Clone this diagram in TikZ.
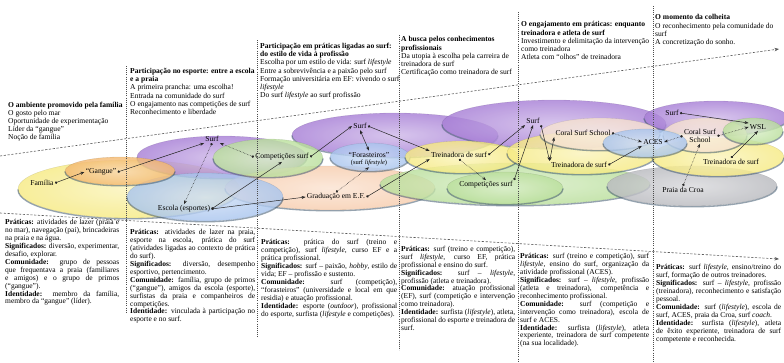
\documentclass[tikz,border=0pt]{standalone}
\usepackage{fontspec}
\setmainfont{Liberation Serif}
\usetikzlibrary{arrows.meta}

\definecolor{cYellow}{HTML}{F6EA84}
\definecolor{cOrange}{HTML}{F4B970}
\definecolor{cPurple}{HTML}{A77FD6}
\definecolor{cBlue}{HTML}{A9C5EE}
\definecolor{cGreen}{HTML}{BADF9C}
\definecolor{cPeach}{HTML}{F7CDAE}
\definecolor{cCream}{HTML}{F6E2D0}
\definecolor{cGrey}{HTML}{B9BABF}
\definecolor{cRim}{HTML}{3F586E}

% one shaded, semi-transparent lobe with a darker lower rim
\newcommand\drawlobe[5]{%
  \shade[lobe=#5] (#1,#2) ellipse [x radius=#3, y radius=#4];
  \draw[rimline] (#1+#3,#2+0.8) arc[start angle=0, end angle=180, x radius=#3, y radius=#4];
}

\begin{document}
\begin{tikzpicture}[x=1pt,y=-1pt,
  lobe/.style={inner color=#1!55!white, outer color=#1, opacity=0.82,
               draw=#1!55!black, draw opacity=0.3, line width=0.3pt},
  rimline/.style={cRim, line width=1.3pt, opacity=0.55, line cap=round},
  toptext/.style={anchor=north west, align=left, inner sep=0pt,
                  font=\fontsize{7.55}{8.2}\selectfont},
  bottext/.style={anchor=north west, align=justify, inner sep=0pt,
                  font=\fontsize{7.5}{7.9}\selectfont,
                  execute at begin node={\parindent=0pt\tolerance=9999\emergencystretch=1.5em\hyphenpenalty=10000}},
  lab/.style={font=\fontsize{7.6}{8.3}\selectfont, inner sep=1.2pt, align=center},
  conn/.style={draw=black!85, line width=0.5pt,
               {Circle[length=2.4pt]}-{Stealth[length=4pt,width=3pt]}},
  dconn/.style={conn, densely dotted},
  twoway/.style={draw=black!85, line width=0.5pt,
               {Stealth[length=4pt,width=3pt]}-{Stealth[length=4pt,width=3pt]}},
  sepline/.style={draw=black!70, line width=0.5pt, dash pattern=on 0.8pt off 1.3pt},
  guide/.style={draw=black!65, line width=0.6pt, dash pattern=on 2.2pt off 1.6pt,
               -{Stealth[length=4.5pt,width=3.5pt]}}
]
\useasboundingbox (0,0) rectangle (784,362);

% ---------- lobes (back to front) ----------
\drawlobe{129}{189}{111}{29}{cYellow}
\drawlobe{222}{157}{85}{21}{cPurple}
\drawlobe{395}{135}{103}{22}{cPurple}
\drawlobe{330}{188}{105}{22}{cPeach}
\drawlobe{205}{197}{78}{24}{cBlue}
\drawlobe{120}{171}{55}{14}{cOrange}
\drawlobe{268}{158}{55}{19}{cGreen}
\drawlobe{554}{124}{112}{24}{cPurple}
\drawlobe{370}{157}{40}{14}{cBlue}
\drawlobe{515}{184}{135}{21}{cGreen}
\drawlobe{505}{188}{58}{16}{cGreen}
\drawlobe{462}{157}{57}{16}{cYellow}
\drawlobe{692}{186}{85}{20}{cGrey}
\drawlobe{582}{153}{75}{21}{cYellow}
\drawlobe{716}{118}{72}{17}{cPurple}
\drawlobe{600}{134}{60}{16}{cCream}
\drawlobe{718}{157}{66}{19}{cYellow}
\drawlobe{705}{135}{42}{17}{cCream}
\drawlobe{645}{143}{42}{14}{cBlue}
\drawlobe{753}{131}{30}{13}{cGreen}

% ---------- phase separators and time guides ----------
\coordinate (s1a) at (126,66);  \coordinate (s1b) at (126,312);
\coordinate (s2a) at (257,40);  \coordinate (s2b) at (257,338);
\coordinate (s3a) at (399,35);  \coordinate (s3b) at (399,350);
\coordinate (s4a) at (518,12);  \coordinate (s4b) at (518,362);
\coordinate (s5a) at (653,6);   \coordinate (s5b) at (653,362);
\draw[sepline] (s1a) -- (s1b);
\draw[sepline] (s2a) -- (s2b);
\draw[sepline] (s3a) -- (s3b);
\draw[sepline] (s4a) -- (s4b);
\draw[sepline] (s5a) -- (s5b);

\coordinate (gta) at (0,156);  \coordinate (gtb) at (779,49);
\coordinate (gba) at (0,213);  \coordinate (gbb) at (779,259);
\draw[guide] (gta) -- (gtb);
\draw[guide] (gba) -- (gbb);

% ---------- phase headings ----------
\node[toptext] (t1) at (8,101.5) {\textbf{O ambiente promovido pela família}\\O gosto pelo mar\\Oportunidade de experimentação\\Líder da “gangue”\\Noção de família};
\node[toptext] (t2) at (130,68) {\textbf{Participação no esporte: entre a escola}\\\textbf{e a praia}\\A primeira prancha: uma escolha!\\Entrada na comunidade do surf\\O engajamento nas competições de surf\\Reconhecimento e liberdade};
\node[toptext] (t3) at (260,43) {\textbf{Participação em práticas ligadas ao surf:}\\\textbf{do estilo de vida à profissão}\\Escolha por um estilo de vida: surf \textit{lifestyle}\\Entre a sobrevivência e a paixão pelo surf\\Formação universitária em EF: vivendo o surf\\\textit{lifestyle}\\Do surf \textit{lifestyle} ao surf profissão};
\node[toptext] (t4) at (401,36.5) {\textbf{A busca pelos conhecimentos}\\\textbf{profissionais}\\Da utopia à escolha pela carreira de\\treinadora de surf\\Certificação como treinadora de surf};
\node[toptext] (t5) at (521,21.5) {\textbf{O engajamento em práticas: enquanto}\\\textbf{treinadora e atleta de surf}\\Investimento e delimitação da intervenção\\como treinadora\\Atleta com “olhos” de treinadora};
\node[toptext] (t6) at (655,14.5) {\textbf{O momento da colheita}\\O reconhecimento pela comunidade do\\surf\\A concretização do sonho.};

% ---------- phase descriptions ----------
\node[bottext, text width=114pt] (b1) at (5,219.5) {\textbf{Práticas:} atividades de lazer (praia e no mar), navegação (pai), brincadeiras na praia e na água.\\\textbf{Significados:} diversão, experimentar, desafio, explorar.\\\textbf{Comunidade:} grupo de pessoas que frequentava a praia (familiares e amigos) e o grupo de primos (“gangue”).\\\textbf{Identidade:} membro da família, membro da “gangue” (líder).};
\node[bottext, text width=125pt] (b2) at (130,229.5) {\textbf{Práticas:} atividades de lazer na praia, esporte na escola, prática do surf (atividades ligadas ao contexto de prática do surf).\\\textbf{Significados:} diversão, desempenho esportivo, pertencimento.\\\textbf{Comunidade:} família, grupo de primos (“gangue”), amigos da escola (esporte), surfistas da praia e companheiros de competições.\\\textbf{Identidade:} vinculada à participação no esporte e no surf.};
\node[bottext, text width=136pt] (b3) at (261,239.5) {\textbf{Práticas:} prática do surf (treino e competição), surf \textit{lifestyle}, curso EF e a prática profissional.\\\textbf{Significados:} surf – paixão, \textit{hobby}, estilo de vida; EF – profissão e sustento.\\\textbf{Comunidade:} surf (competição), “forasteiros” (universidade e local em que residia) e atuação profissional.\\\textbf{Identidade:} esporte (\textit{outdoor}), profissional do esporte, surfista (\textit{lifestyle} e competições).};
\node[bottext, text width=114pt] (b4) at (401,246) {\textbf{Práticas:} surf (treino e competição), surf \textit{lifestyle}, curso EF, prática profissional e ensino do surf.\\\textbf{Significados:} surf – \textit{lifestyle}, profissão (atleta e treinadora).\\\textbf{Comunidade:} atuação profissional (EF), surf (competição e intervenção como treinadora).\\\textbf{Identidade:} surfista (\textit{lifestyle}), atleta, profissional do esporte e treinadora de surf.};
\node[bottext, text width=129pt] (b5) at (520,253.5) {\textbf{Práticas:} surf (treino e competição), surf \textit{lifestyle}, ensino do surf, organização da atividade profissional (ACES).\\\textbf{Significados:} surf – \textit{lifestyle}, profissão (atleta e treinadora), competência e reconhecimento profissional.\\\textbf{Comunidade:} surf (competição e intervenção como treinadora), escola de surf e ACES.\\\textbf{Identidade:} surfista (\textit{lifestyle}), atleta experiente, treinadora de surf competente (na sua localidade).};
\node[bottext, text width=125pt] (b6) at (656,264.5) {\textbf{Práticas:} surf \textit{lifestyle}, ensino/treino do surf, formação de outros treinadores.\\\textbf{Significados:} surf – \textit{lifestyle}, profissão (treinadora), reconhecimento e satisfação pessoal.\\\textbf{Comunidade:} surf (\textit{lifestyle}), escola de surf, ACES, praia da Croa, surf \textit{coach}.\\\textbf{Identidade:} surfista (\textit{lifestyle}), atleta de êxito experiente, treinadora de surf competente e reconhecida.};

% ---------- element labels ----------
\node[lab] (fam)    at (42,183)  {Família};
\node[lab] (gangue) at (101,172) {“Gangue”};
\node[lab] (surfA)  at (212,139) {Surf};
\node[lab] (compA)  at (282,157) {Competições surf};
\node[lab] (escola) at (184,209) {Escola (esportes)};
\node[lab] (surfB)  at (360,126) {Surf};
\node[lab] (foras)  at (369,159) {“Forasteiros”\\[-1pt]{\fontsize{6.5}{7}\selectfont(surf \textit{lifestyle})}};
\node[lab] (grad)   at (336,197) {Graduação em E.F.};
\node[lab] (treinC) at (459,155) {Treinadora de surf};
\node[lab] (compC)  at (486,185) {Competições surf};
\node[lab] (surfD)  at (533,121) {Surf};
\node[lab] (coralD) at (583,133) {Coral Surf School};
\node[lab] (treinD) at (579,165) {Treinadora de surf};
\node[lab] (aces)   at (653,142) {ACES};
\node[lab] (surfE)  at (672,113) {Surf};
\node[lab] (coralE) at (700,136) {Coral Surf\\[-1pt]School};
\node[lab] (wsl)    at (758,127) {WSL};
\node[lab] (treinE) at (731,162) {Treinadora de surf};
\node[lab] (praia)  at (683,190) {Praia da Croa};

% ---------- connectors ----------
\draw[conn]  (fam.east) -- (gangue.west);
\draw[conn]  (gangue.east) -- (surfA.south west);
\draw[dconn] (compA.west) -- (surfA.south east);
\draw[dconn] (surfA.south) -- (escola.north);
\draw[conn]  (escola.east) -- (compA.south);
\draw[conn]  (escola.east) -- (grad.west);
\draw[conn]  (compA.east) -- (surfB.west);
\draw[twoway] (surfB.south) -- (foras.north);
\draw[dconn] (grad.north) -- (foras.south);
\draw[conn]  (grad.east) -- (treinC.south west);
\draw[conn]  (surfB.east) -- (treinC.north west);
\draw[dconn] (treinC.south) -- (compC.north);
\draw[conn]  (treinC.east) -- (surfD.south west);
\draw[conn]  (compC.north east) -- (surfD.south);
\draw[conn]  (surfD.south east) -- (treinD.north west);
\draw[twoway] (coralD.south west) -- (treinD.north west);
\draw[dconn] (coralD.east) -- (aces.west);
\draw[conn]  (treinD.east) -- (aces.south west);
\draw[dconn] (coralE.west) -- (aces.east);
\draw[conn]  (surfE.east) -- (wsl.north west);
\draw[dconn] (coralE.east) -- (wsl.west);
\draw[conn]  (treinE.north) -- (wsl.south);
\draw[dconn] (praia.north) -- (coralE.south);
\end{tikzpicture}
\end{document}
